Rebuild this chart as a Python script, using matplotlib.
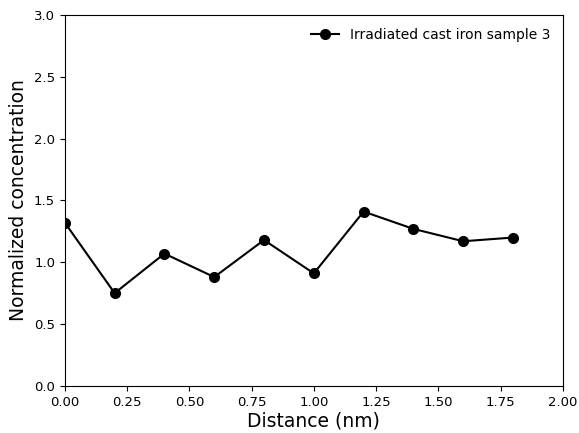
import matplotlib
matplotlib.use("Agg")
import matplotlib.pyplot as plt

distance = [0.0, 0.2, 0.4, 0.6, 0.8, 1.0, 1.2, 1.4, 1.6, 1.8]
concentration = [1.32, 0.75, 1.07, 0.88, 1.18, 0.91, 1.41, 1.27, 1.17, 1.20]
series_label = "Irradiated cast iron sample 3"

fig = plt.figure(figsize=(5.79, 4.33), dpi=100)
ax = fig.add_axes([0.112, 0.109, 0.860, 0.856])
ax.plot(distance, concentration, color="black", marker="o", markersize=7,
        linewidth=1.5, label=series_label)
ax.set_xlim(0, 2.0)
ax.set_ylim(0, 3.0)
ax.set_xticks([0, 0.25, 0.5, 0.75, 1.0, 1.25, 1.5, 1.75, 2.0])
ax.set_xticklabels(["0.00", "0.25", "0.50", "0.75", "1.00", "1.25", "1.50", "1.75", "2.00"])
ax.set_yticks([0, 0.5, 1.0, 1.5, 2.0, 2.5, 3.0])
ax.set_yticklabels(["0.0", "0.5", "1.0", "1.5", "2.0", "2.5", "3.0"])
ax.tick_params(labelsize=9.5)
ax.set_xlabel("Distance (nm)", fontsize=13.5, labelpad=2)
ax.set_ylabel("Normalized concentration", fontsize=13.5, labelpad=4)
ax.legend(loc="upper right", frameon=False, fontsize=10)
fig.savefig("out.png", dpi=100)
